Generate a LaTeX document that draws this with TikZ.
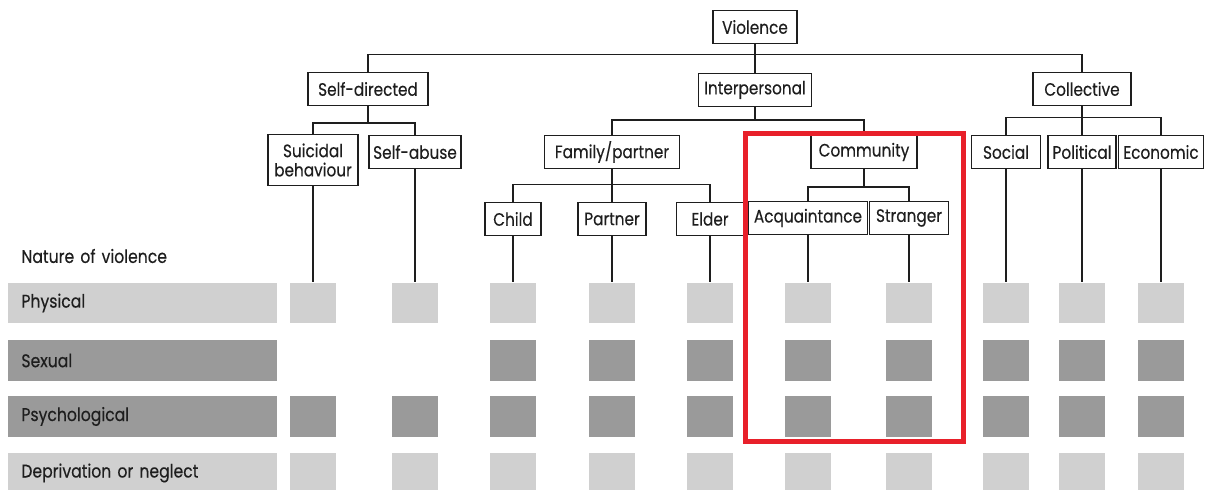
\documentclass[tikz,border=0pt]{standalone}
\usepackage{fontspec}
\setmainfont{Poppins}[FakeStretch=0.85, FakeBold=0.35]
\usetikzlibrary{positioning}
\definecolor{lightsq}{HTML}{D0D0D0}
\definecolor{darksq}{HTML}{9A9A9A}
\definecolor{framered}{HTML}{E8202A}
\definecolor{inkgray}{HTML}{1E1E1E}

\tikzset{
  box/.style={draw=inkgray, line width=0.75pt, minimum height=16.5pt,
    inner xsep=2pt, inner ysep=1pt, align=center, text=inkgray,
    font=\fontsize{9}{9.6}\selectfont},
  branch/.style={draw=inkgray, line width=0.6pt},
  sq/.style={minimum width=23.3pt, minimum height=20.3pt, inner sep=0pt},
  ltfill/.style={fill=lightsq},
  dkfill/.style={fill=darksq},
  rowbar/.style={anchor=west, minimum height=20.3pt, inner xsep=6.5pt,
    text width=121.5pt, align=left, text=inkgray,
    font=\fontsize{9.2}{9.8}\selectfont}
}

\begin{document}
\begin{tikzpicture}[x=0.5pt, y=-0.5pt]
  \clip (0,0) rectangle (1207,490);

  % Spitze und erste Ebene
  \node[box, minimum width=42pt] (violence) at (755,27) {Violence};
  \node[box, minimum width=60pt] (selfdir) at (368,89) {Self-directed};
  \node[box, minimum width=56.5pt] (inter) at (755,90) {Interpersonal};
  \node[box, minimum width=49pt] (collect) at (1082,89) {Collective};
  \draw[branch] (violence) -- (inter);
  \draw[branch] (selfdir.north) -- ++(0,-17) -| (collect.north);

  % Self-directed
  \node[box, minimum width=45pt, minimum height=25.5pt] (suicidal) at (313,160) {Suicidal\\behaviour};
  \node[box, minimum width=45pt] (selfabuse) at (415,152) {Self-abuse};
  \coordinate (sdfork) at (368,123);
  \draw[branch] (selfdir) -- (sdfork);
  \draw[branch] (suicidal.north) |- (sdfork) -| (selfabuse.north);

  % Interpersonal
  \node[box, minimum width=67.5pt] (family) at (612,152) {Family/partner};
  \node[box, minimum width=53pt] (community) at (864,152) {Community};
  \coordinate (ipfork) at (755,120);
  \draw[branch] (inter) -- (ipfork);
  \draw[branch] (family.north) |- (ipfork) -| (community.north);

  \node[box, minimum width=28pt] (child) at (513,219) {Child};
  \node[box, minimum width=34pt] (partner) at (612,219) {Partner};
  \node[box, minimum width=33.5pt] (elder) at (710,219) {Elder};
  \draw[branch] (child.north) -- ++(0,-17) -| (elder.north);
  \draw[branch] (family) -- (partner);

  \node[box, minimum width=59.5pt] (acq) at (808,218) {Acquaintance};
  \node[box, minimum width=39.5pt] (stranger) at (909,218) {Stranger};
  \coordinate (cmfork) at (864,187);
  \draw[branch] (community) -- (cmfork);
  \draw[branch] (acq.north) |- (cmfork) -| (stranger.north);

  % Collective
  \node[box, minimum width=34.5pt] (social) at (1006,152) {Social};
  \node[box, minimum width=34pt, inner xsep=1pt] (political) at (1082,152) {Political};
  \node[box, minimum width=42.5pt] (economic) at (1161,152) {Economic};
  \draw[branch] (social.north) -- ++(0,-17) -| (economic.north);
  \draw[branch] (collect) -- (political);

  % Zeilen
  \node[rowbar, inner xsep=0pt, text width=130pt] (nature) at (21,256) {Nature of violence};
  \node[rowbar, ltfill] (physical) at (8,303) {Physical};
  \node[rowbar, dkfill] (sexual) at (8,360.5) {Sexual};
  \node[rowbar, dkfill] (psych) at (8,416.5) {Psychological};
  \node[rowbar, ltfill] (neglect) at (8,473) {Deprivation or neglect};

  % Felder
  \foreach \nm/\cx in {suicidal/313, selfabuse/415} {
    \node[sq, ltfill] (\nm-1) at (\cx,303) {};
    \node[sq, dkfill] (\nm-3) at (\cx,416.5) {};
    \node[sq, ltfill] (\nm-4) at (\cx,473) {};
    \draw[branch] (\nm) -- (\nm-1);
  }
  \foreach \nm/\cx in {child/513, partner/612, elder/710, acq/808, stranger/909,
      social/1006, political/1082, economic/1161} {
    \node[sq, ltfill] (\nm-1) at (\cx,303) {};
    \node[sq, dkfill] (\nm-2) at (\cx,360.5) {};
    \node[sq, dkfill] (\nm-3) at (\cx,416.5) {};
    \node[sq, ltfill] (\nm-4) at (\cx,473) {};
    \draw[branch] (\nm) -- (\nm-1);
  }

  % Rahmen Community
  \draw[framered, line width=2.3pt] (745.5,133.5) rectangle (963.5,441.5);
\end{tikzpicture}
\end{document}
